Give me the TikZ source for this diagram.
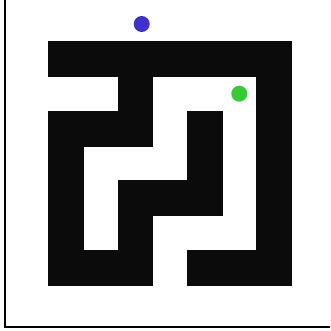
\documentclass[tikz,border=0pt]{standalone}
\usepackage{xcolor}
\usepackage{tikz}
\definecolor{wallcolor}{RGB}{11,11,11}
\definecolor{startcolor}{RGB}{64,48,208}
\definecolor{goalcolor}{RGB}{51,204,51}

\begin{document}
\begin{tikzpicture}[x=1pt,y=-1pt]
  \tikzset{wall/.style={fill=wallcolor,draw=wallcolor,line width=0.4pt},
    marker/.style={circle,inner sep=0pt,minimum size=16pt}}
  \useasboundingbox (0,0) rectangle (330,331);
  % ---------------- frame
  \draw[line width=1.2pt] (5,0) -- (5,327) -- (330,327);
  % ---------------- walls (row / first col / last col+1)
  \begin{scope}[shift={(48.3,41.7)},x=34.72pt,y=-34.72pt]
    \foreach \r/\a/\b in {0/0/7, 1/2/3, 1/6/7, 2/0/3, 2/4/5, 2/6/7, 3/0/1, 3/4/5, 3/6/7,
      4/0/1, 4/2/5, 4/6/7, 5/0/1, 5/2/3, 5/6/7, 6/0/3, 6/4/7} {
      \fill[wall] (\a,\r) rectangle (\b,\r+1);
    }
  \end{scope}
  % ---------------- start and goal
  \node[marker,fill=startcolor] (start) at (141.7,24) {};
  \node[marker,fill=goalcolor] (goal) at (239.3,93.7) {};
\end{tikzpicture}
\end{document}
